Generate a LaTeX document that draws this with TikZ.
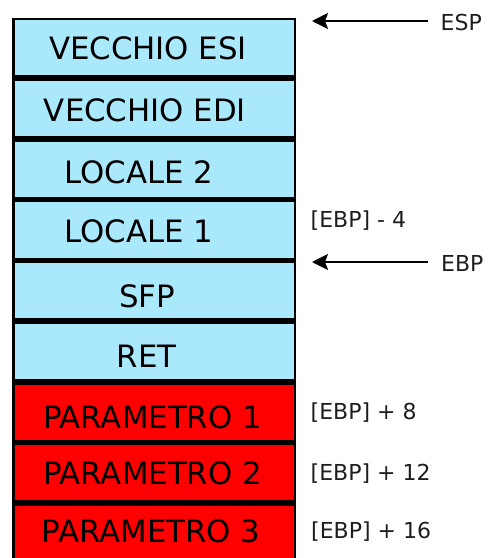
\documentclass[tikz,border=0pt]{standalone}
\usepackage{fontspec}
\setmainfont{DejaVu Sans}
\usetikzlibrary{arrows.meta}
\definecolor{stackblue}{RGB}{170,232,252}
\definecolor{argred}{RGB}{255,0,0}
\definecolor{labelgray}{RGB}{30,30,30}

\begin{document}
\begin{tikzpicture}[x=1pt,y=-1pt,
  cell/.style={draw=black, line width=2.8pt, minimum width=281.7pt,
    minimum height=57.9pt, inner sep=0pt, outer sep=0pt},
  local/.style={cell, fill=stackblue},
  param/.style={cell, fill=argred},
  celltext/.style={font=\fontsize{30.8}{36}\selectfont, inner sep=0pt, text=black},
  offset/.style={font=\fontsize{22}{26}\selectfont, inner sep=0pt,
    anchor=west, text=labelgray},
  ptr/.style={line width=2.4pt, -{Stealth[length=16pt,width=16pt,inset=3pt]}}]

\useasboundingbox (0,0) rectangle (488,558);
\clip (0,0) rectangle (488,558);

% stack cells, top to bottom
\node[local] (c1) at (154.15,47.85)  {};
\node[local] (c2) at (154.15,108.55) {};
\node[local] (c3) at (154.15,169.25) {};
\node[local] (c4) at (154.15,229.95) {};
\node[local] (c5) at (154.15,290.65) {};
\node[local] (c6) at (154.15,351.35) {};
\node[param] (c7) at (154.15,412.05) {};
\node[param] (c8) at (154.15,472.75) {};
\node[param] (c9) at (154.15,533.45) {};

% cell contents
\node[celltext] (t1) at (148,48)     {VECCHIO ESI};
\node[celltext] (t2) at (145,110)    {VECCHIO EDI};
\node[celltext] (t3) at (139,172)    {LOCALE 2};
\node[celltext] (t4) at (139,231)    {LOCALE 1};
\node[celltext] (t5) at (147,296)    {SFP};
\node[celltext] (t6) at (146.5,356)  {RET};
\node[celltext] (t7) at (152.5,417)  {PARAMETRO 1};
\node[celltext] (t8) at (152.5,473.5){PARAMETRO 2};
\node[celltext] (t9) at (151,531.5)  {PARAMETRO 3};

% register pointers
\node[offset] (esp) at (440.5,22.5) {ESP};
\node[offset] (ebp) at (441,263)    {EBP};
\coordinate (espTail) at (428,21);
\coordinate (espTip)  at (312,21);
\coordinate (ebpTail) at (428,262);
\coordinate (ebpTip)  at (312,262);
\draw[ptr] (espTail) -- (espTip);
\draw[ptr] (ebpTail) -- (ebpTip);

% offsets relative to EBP
\node[offset] (m4)  at (310.5,220.5) {[EBP] - 4};
\node[offset] (p8)  at (310.5,413)   {[EBP] + 8};
\node[offset] (p12) at (310.5,474)   {[EBP] + 12};
\node[offset] (p16) at (311,532)     {[EBP] + 16};
\end{tikzpicture}
\end{document}
